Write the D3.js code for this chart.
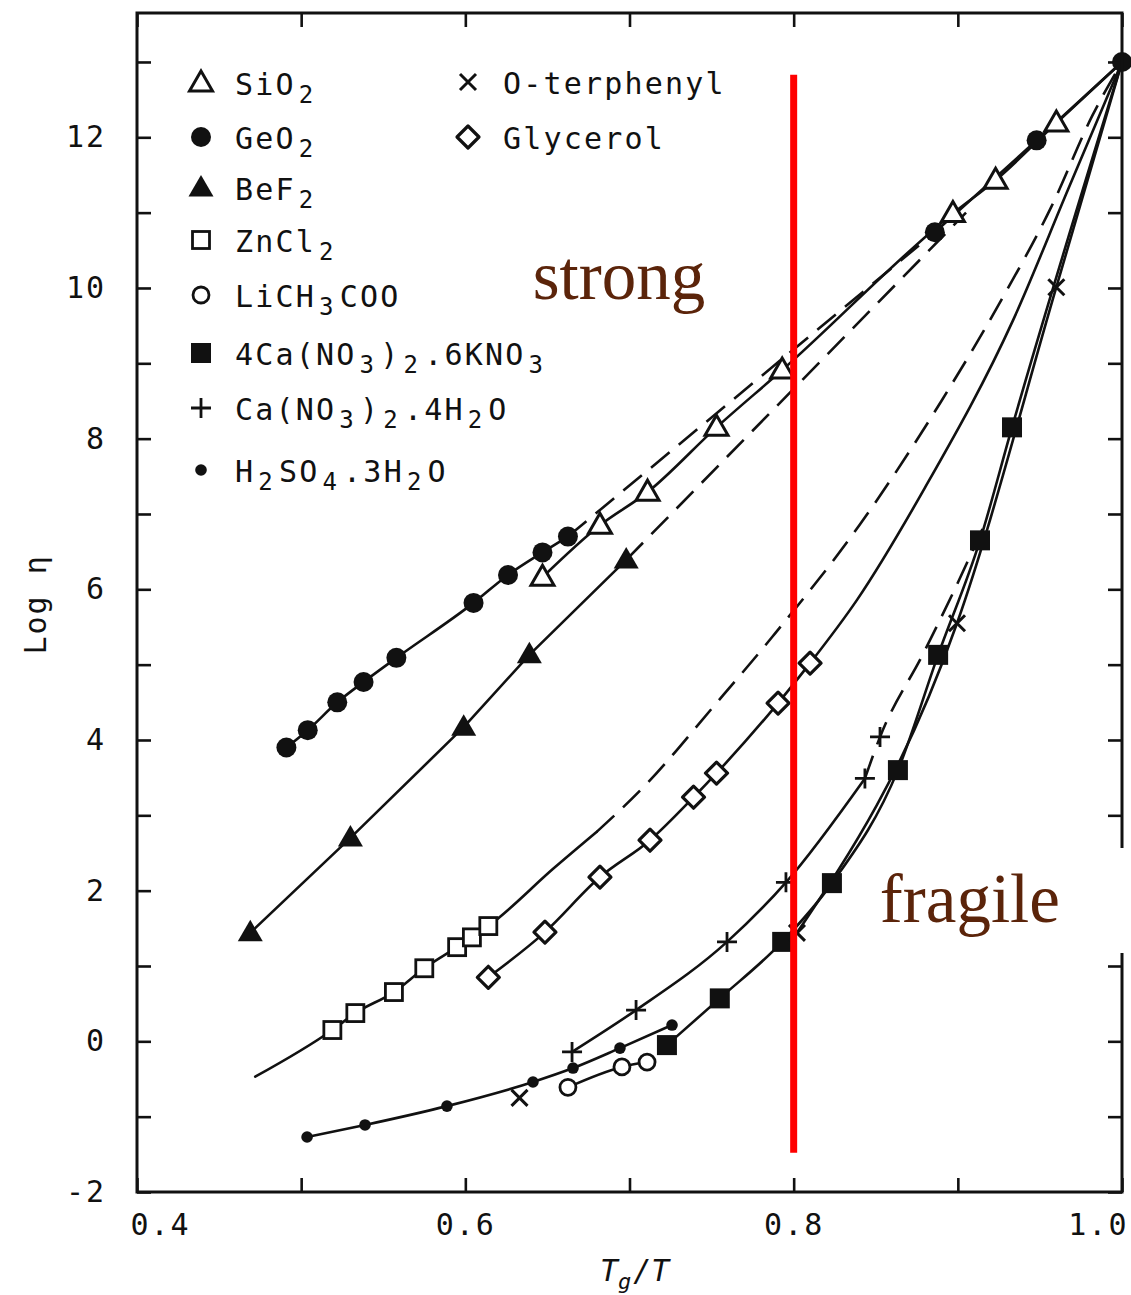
<!DOCTYPE html>
<html>
<head>
<meta charset="utf-8">
<script src="https://cdn.jsdelivr.net/npm/d3@7"></script>
<style>
  html, body { margin: 0; padding: 0; background: #fff; }
  svg { display: block; }
</style>
</head>
<body>
<svg id="chart" width="1131" height="1295"></svg>
<script>
// ---- Viscosity data, log10(eta) against Tg/T ----
const sio2Pts = [[0.647,6.16],[0.682,6.85],[0.711,7.29],[0.753,8.15],[0.793,8.91],[0.897,10.99],[0.923,11.43],[0.960,12.19]];
const sio2Solid = [[0.647,6.16],[0.682,6.85],[0.711,7.29],[0.753,8.15],[0.793,8.91],[0.897,10.99],[0.923,11.43],[0.960,12.19],[1.0,13.0]];

const geo2Pts = [[0.491,3.90],[0.504,4.13],[0.522,4.50],[0.538,4.77],[0.558,5.09],[0.605,5.82],[0.626,6.19],[0.647,6.49],[0.6625,6.70],[0.886,10.74],[0.948,11.96],[1.0,13.0]];
const geo2Solid = [[0.491,3.90],[0.504,4.13],[0.522,4.50],[0.538,4.77],[0.558,5.09],[0.605,5.82],[0.626,6.19],[0.647,6.49],[0.6625,6.70]];
const geo2SolidHigh = [[0.886,10.74],[0.948,11.96],[1.0,13.0]];
const geo2Dash = [[0.6625,6.70],[0.886,10.74]];

const bef2Pts = [[0.469,1.44],[0.530,2.70],[0.599,4.17],[0.639,5.13],[0.698,6.39]];
const bef2Dash = [[0.698,6.39],[0.905,11.0]];

const zncl2Pts = [[0.519,0.15],[0.533,0.375],[0.5565,0.654],[0.575,0.97],[0.595,1.25],[0.604,1.38],[0.614,1.53]];
const zncl2Solid = [[0.472,-0.47],[0.519,0.15],[0.533,0.375],[0.5565,0.654],[0.575,0.97],[0.595,1.25],[0.604,1.38],[0.614,1.53],[0.654,2.30],[0.680,2.78]];
const zncl2Dash = [[0.680,2.78],[0.711,3.43],[0.751,4.44],[0.787,5.37],[0.84,6.85],[0.89,8.5],[0.927,9.86],[0.957,11.08],[0.982,12.29],[1.0,13.0]];

const liacPts = [[0.6625,-0.61],[0.6954,-0.34],[0.7107,-0.275]];

const ckPts = [[0.7228,-0.05],[0.755,0.57],[0.793,1.32],[0.8233,2.10],[0.8635,3.60],[0.888,5.13],[0.9135,6.65],[0.933,8.15]];
const ckSolid = [[0.7228,-0.05],[0.755,0.57],[0.793,1.32],[0.8233,2.10],[0.8635,3.60],[0.888,5.13],[0.9135,6.65],[0.933,8.15],[1.0,13.0]];

const cnPts = [[0.665,-0.14],[0.704,0.415],[0.7594,1.32],[0.7953,2.11],[0.8434,3.49],[0.8526,4.04]];
const cnSolid = [[0.665,-0.14],[0.704,0.415],[0.7594,1.32],[0.7953,2.11],[0.8434,3.49]];
const cnDash = [[0.8434,3.49],[0.8526,4.04],[0.879,5.15],[0.897,5.95],[0.915,6.8]];

const h2so4Pts = [[0.5036,-1.27],[0.5389,-1.11],[0.5888,-0.86],[0.6412,-0.54],[0.6656,-0.355],[0.6942,-0.09],[0.7259,0.216]];

const otpPts = [[0.633,-0.75],[0.802,1.44],[0.8995,5.55],[0.960,10.01]];
const otpSolid = [[0.802,1.44],[0.8995,5.55],[0.960,10.01],[1.0,13.0]];

const glyPts = [[0.614,0.85],[0.6485,1.45],[0.682,2.18],[0.7125,2.67],[0.739,3.24],[0.753,3.56],[0.7905,4.49],[0.81,5.02]];
const glySolid = [[0.614,0.85],[0.6485,1.45],[0.682,2.18],[0.7125,2.67],[0.739,3.24],[0.753,3.56],[0.7905,4.49],[0.81,5.02],[0.8386,5.86],[0.88,7.35],[0.9336,9.57],[0.967,11.3],[1.0,13.0]];

// ---- Axis ticks and labels ----
const xTicks = [0.4,0.5,0.6,0.7,0.8,0.9,1.0];
const xTickLabels = ["0.4","","0.6","","0.8","","1.0"];
const yTicks = [-2,-1,0,1,2,3,4,5,6,7,8,9,10,11,12,13];
const yTickLabels = ["-2","","0","","2","","4","","6","","8","","10","","12",""];

// ---- Legend ----
const legendLeft = [
  ["triOpen","SiO_2"],["circleBig","GeO_2"],["triFilled","BeF_2"],["squareOpen","ZnCl_2"],
  ["circleOpen","LiCH_3COO"],["squareFilled","4Ca(NO_3)_2.6KNO_3"],["plus","Ca(NO_3)_2.4H_2O"],["dot","H_2SO_4.3H_2O"]
];
const legendRight = [["cross","O-terphenyl"],["diamond","Glycerol"]];

const dividerAt = 0.8;
const dividerSpan = [-1.48, 12.83];
const regionLabels = [["strong", 0.641, 9.85], ["fragile", 0.8525, 1.58]];

// ---- Layout ----
const svg = d3.select("#chart");
const x = d3.scaleLinear().domain([0.4, 1.0]).range([137, 1122]);
const y = d3.scaleLinear().domain([-2, 13.65]).range([1192, 13]);
const ink = "#111";
const monoFont = "'DejaVu Sans Mono', monospace";

const line = d3.line().x(d => x(d[0])).y(d => y(d[1])).curve(d3.curveMonotoneX);
const straight = d3.line().x(d => x(d[0])).y(d => y(d[1]));

const gLines = svg.append("g").attr("fill", "none").attr("stroke", ink).attr("stroke-width", 2.6)
  .attr("stroke-linecap", "round").attr("stroke-linejoin", "round");

function solid(data, gen = line) { gLines.append("path").attr("d", gen(data)); }
function dashed(data, gen = line) { gLines.append("path").attr("d", gen(data)).attr("stroke-dasharray", "24 12").attr("stroke-linecap", "butt"); }

solid(sio2Solid);
solid(geo2Solid);
solid(geo2SolidHigh);
dashed(geo2Dash, straight);
solid(bef2Pts, straight);
dashed(bef2Dash, straight);
solid(zncl2Solid);
dashed(zncl2Dash);
solid(liacPts);
solid(ckSolid);
solid(cnSolid);
dashed(cnDash);
solid(h2so4Pts);
solid(otpSolid);
solid(glySolid);

// ---- Marker shapes ----
function marker(g, type) {
  switch (type) {
    case "triOpen":
      g.append("path").attr("d", "M0,-12L11.5,8L-11.5,8Z").attr("fill", "#fff").attr("stroke", ink).attr("stroke-width", 3).attr("stroke-linejoin", "miter"); break;
    case "triFilled":
      g.append("path").attr("d", "M0,-13L12.5,8.5L-12.5,8.5Z").attr("fill", ink); break;
    case "circleBig":
      g.append("circle").attr("r", 10).attr("fill", ink); break;
    case "squareOpen":
      g.append("rect").attr("x", -8.5).attr("y", -8.5).attr("width", 17).attr("height", 17).attr("fill", "#fff").attr("stroke", ink).attr("stroke-width", 2.8); break;
    case "squareFilled":
      g.append("rect").attr("x", -10).attr("y", -10).attr("width", 20).attr("height", 20).attr("fill", ink); break;
    case "circleOpen":
      g.append("circle").attr("r", 8).attr("fill", "#fff").attr("stroke", ink).attr("stroke-width", 2.8); break;
    case "dot":
      g.append("circle").attr("r", 5.8).attr("fill", ink); break;
    case "plus":
      g.append("path").attr("d", "M-10,0H10M0,-10V10").attr("stroke", ink).attr("stroke-width", 2.8); break;
    case "cross":
      g.append("path").attr("d", "M-8,-8L8,8M8,-8L-8,8").attr("stroke", ink).attr("stroke-width", 3); break;
    case "diamond":
      g.append("path").attr("d", "M0,-11L11,0L0,11L-11,0Z").attr("fill", "#fff").attr("stroke", ink).attr("stroke-width", 3.2).attr("stroke-linejoin", "round"); break;
  }
}

function plotPoints(data, type) {
  svg.append("g").selectAll("g").data(data).join("g")
    .attr("transform", d => `translate(${x(d[0])},${y(d[1])})`)
    .each(function () { marker(d3.select(this), type); });
}

plotPoints(h2so4Pts, "dot");
plotPoints(liacPts, "circleOpen");
plotPoints(zncl2Pts, "squareOpen");
plotPoints(glyPts, "diamond");
plotPoints(cnPts, "plus");
plotPoints(ckPts, "squareFilled");
plotPoints(otpPts, "cross");
plotPoints(bef2Pts, "triFilled");
plotPoints(geo2Pts, "circleBig");
plotPoints(sio2Pts, "triOpen");

// ---- Frame and ticks (all ticks point inward) ----
const tickLen = 14;
const axes = svg.append("g");

const axL = axes.append("g").attr("transform", `translate(${x(0.4)},0)`)
  .call(d3.axisLeft(y).tickValues(yTicks).tickSize(-tickLen).tickPadding(31)
    .tickFormat((d, i) => yTickLabels[i]));
const axR = axes.append("g").attr("transform", `translate(${x(1.0)},0)`)
  .call(d3.axisRight(y).tickValues(yTicks).tickSize(-tickLen).tickFormat(""));
const axB = axes.append("g").attr("transform", `translate(0,${y(-2)})`)
  .call(d3.axisBottom(x).tickValues(xTicks).tickSize(-tickLen).tickPadding(22)
    .tickFormat((d, i) => xTickLabels[i]));
const axT = axes.append("g").attr("transform", `translate(0,${y(13.65)})`)
  .call(d3.axisTop(x).tickValues(xTicks).tickSize(-tickLen).tickFormat(""));

[axL, axR, axB, axT].forEach(a => {
  a.select(".domain").remove();
  a.selectAll(".tick line").attr("stroke", ink).attr("stroke-width", 2.6);
  a.selectAll(".tick text").filter(function () { return this.textContent === ""; }).remove();
  a.selectAll(".tick text").attr("fill", ink).attr("font-family", monoFont).attr("font-size", 30).attr("letter-spacing", 2);
});
// end labels sit inside the frame edges
axB.selectAll(".tick text").filter(d => d === 0.4).attr("text-anchor", "start").attr("dx", -7);
axB.selectAll(".tick text").filter(d => d === 1.0).attr("text-anchor", "end").attr("dx", 6);

svg.append("rect")
  .attr("x", x(0.4)).attr("y", y(13.65))
  .attr("width", x(1.0) - x(0.4)).attr("height", y(-2) - y(13.65))
  .attr("fill", "none").attr("stroke", ink).attr("stroke-width", 3);

// axis titles
svg.append("text")
  .attr("transform", `translate(46,${y(5.8)}) rotate(-90)`)
  .attr("text-anchor", "middle").attr("font-family", monoFont).attr("font-size", 30).attr("fill", ink)
  .attr("letter-spacing", 2).text("Log η");

const xt = svg.append("text").attr("x", 600).attr("y", 1281)
  .attr("font-family", monoFont).attr("font-size", 30).attr("fill", ink).attr("font-style", "italic");
xt.append("tspan").text("T");
xt.append("tspan").attr("font-size", 22).attr("dy", 8).text("g");
xt.append("tspan").attr("dy", -8).attr("dx", 2).text("/T");

// ---- Legend ----
// "_d" marks a subscript digit
function richLabel(textSel, label) {
  const parts = label.split(/_(\d)/);
  let back = 0;
  parts.forEach((p, i) => {
    if (p === "") return;
    if (i % 2 === 1) {
      textSel.append("tspan").attr("font-size", 24).attr("dx", 3).attr("dy", 8 - back).text(p);
      back = 8;
    } else {
      const t = textSel.append("tspan").text(p);
      if (back) { t.attr("dy", -back).attr("dx", 4); back = 0; }
    }
  });
}

function legendColumn(items, sx, tx, rows) {
  items.forEach((it, i) => {
    const cy = rows[i];
    const g = svg.append("g").attr("transform", `translate(${sx},${cy})`);
    marker(g, it[0]);
    const t = svg.append("text").attr("x", tx).attr("y", cy + 12)
      .attr("font-family", monoFont).attr("font-size", 30).attr("fill", ink).attr("letter-spacing", 2.2);
    richLabel(t, it[1]);
  });
}
legendColumn(legendLeft, 201, 235, [83, 137, 188, 240, 295, 353, 408, 470]);
legendColumn(legendRight, 468, 503, [82, 137]);

// ---- Strong / fragile divider and annotations ----
svg.append("rect").attr("x", 870).attr("y", 848).attr("width", 261).attr("height", 105).attr("fill", "#fff");

svg.append("line")
  .attr("x1", x(dividerAt)).attr("x2", x(dividerAt))
  .attr("y1", y(dividerSpan[1])).attr("y2", y(dividerSpan[0]))
  .attr("stroke", "#ff0000").attr("stroke-width", 7);

svg.append("g").selectAll("text").data(regionLabels).join("text")
  .attr("x", d => x(d[1])).attr("y", d => y(d[2]))
  .attr("font-family", "'Liberation Serif', 'Times New Roman', serif")
  .attr("font-size", 69).attr("fill", "#5b240a")
  .text(d => d[0]);
</script>
</body>
</html>
